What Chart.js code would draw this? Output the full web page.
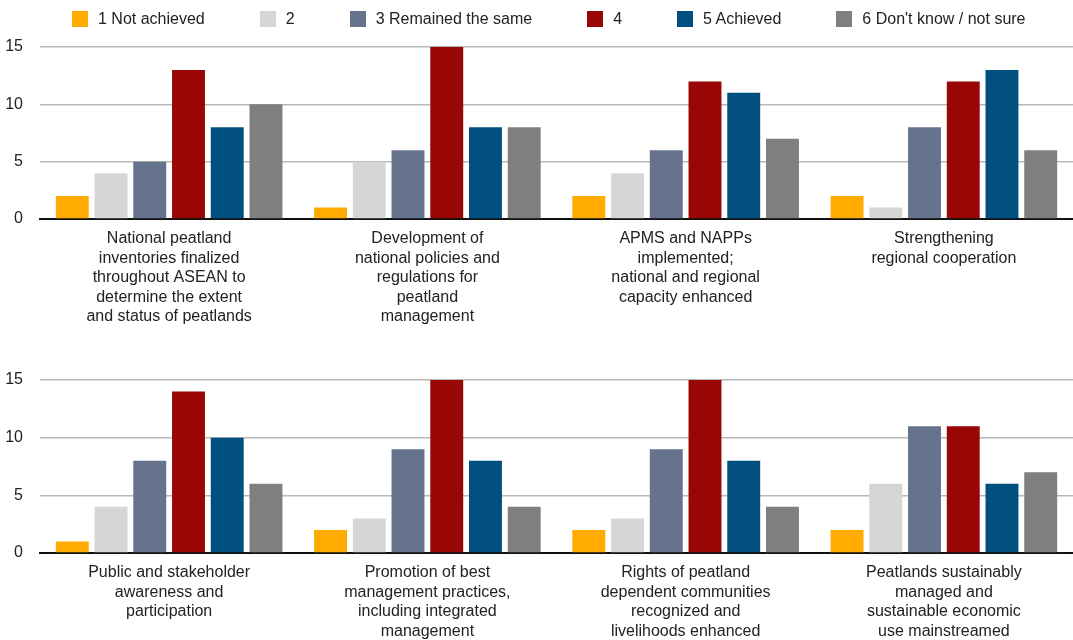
<!DOCTYPE html>
<html>
<head>
<meta charset="utf-8">
<script src="https://cdn.jsdelivr.net/npm/chart.js@4"></script>
<style>
  html, body { margin: 0; padding: 0; background: #fff; }
  #wrap { position: relative; width: 1073px; height: 640px; font-family: 'Liberation Sans', Arial, Helvetica, sans-serif; }
  .box { position: absolute; left: 0; width: 1073px; }
  #legend { position: absolute; top: 11px; left: 72px; display: flex; gap: 55px; z-index: 2; }
  .item { display: flex; align-items: center; gap: 10px; font-size: 16px; color: #222; line-height: 16px; white-space: nowrap; }
  .sw { width: 16px; height: 16px; display: inline-block; }
</style>
</head>
<body>
<div id="wrap">
  <div id="legend"></div>
  <div class="box" style="top:0;height:333px"><canvas id="topChart"></canvas></div>
  <div class="box" style="top:333px;height:307px"><canvas id="bottomChart"></canvas></div>
</div>
<script>
// Series names (legend)
const SERIES = ["1 Not achieved", "2", "3 Remained the same", "4", "5 Achieved", "6 Don't know / not sure"];
const COLORS = ["#FFAB00", "#D6D6D6", "#66738D", "#990606", "#004F7F", "#7F7F7F"];

// Top row categories
const TOP_LABELS = [
  ["National peatland", "inventories finalized", "throughout ASEAN to", "determine the extent", "and status of peatlands"],
  ["Development of", "national policies and", "regulations for", "peatland", "management"],
  ["APMS and NAPPs", "implemented;", "national and regional", "capacity enhanced"],
  ["Strengthening", "regional cooperation"],
];
const top1 = [2, 1, 2, 2];
const top2 = [4, 5, 4, 1];
const top3 = [5, 6, 6, 8];
const top4 = [13, 15, 12, 12];
const top5 = [8, 8, 11, 13];
const top6 = [10, 8, 7, 6];

// Bottom row categories
const BOTTOM_LABELS = [
  ["Public and stakeholder", "awareness and", "participation"],
  ["Promotion of best", "management practices,", "including integrated", "management"],
  ["Rights of peatland", "dependent communities", "recognized and", "livelihoods enhanced"],
  ["Peatlands sustainably", "managed and", "sustainable economic", "use mainstreamed"],
];
const bottom1 = [1, 2, 2, 2];
const bottom2 = [4, 3, 3, 6];
const bottom3 = [8, 9, 9, 11];
const bottom4 = [14, 15, 15, 11];
const bottom5 = [10, 8, 8, 6];
const bottom6 = [6, 4, 4, 7];

const Y_TICKS = [0, 5, 10, 15];

const FONT = "'Liberation Sans', Arial, Helvetica, sans-serif";
const TEXT = "#222";

// Shared legend for both rows
const legend = document.getElementById("legend");
SERIES.forEach((name, i) => {
  const el = document.createElement("div");
  el.className = "item";
  el.innerHTML = `<span class="sw" style="background:${COLORS[i]}"></span><span></span>`;
  el.lastChild.textContent = name;
  legend.appendChild(el);
});

function makeDatasets(rows) {
  return rows.map((data, i) => ({
    label: SERIES[i],
    data,
    backgroundColor: COLORS[i],
    borderWidth: 0,
    barPercentage: 0.85,
    categoryPercentage: 0.9,
  }));
}

function makeChart(id, labels, rows, xHeight, padTop) {
  return new Chart(document.getElementById(id), {
    type: "bar",
    data: { labels, datasets: makeDatasets(rows) },
    options: {
      responsive: true,
      maintainAspectRatio: false,
      animation: false,
      layout: { padding: { top: padTop, right: 0, left: 0, bottom: 0 } },
      plugins: {
        tooltip: { enabled: false },
        legend: { display: false },
      },
      scales: {
        x: {
          grid: { display: false },
          border: { display: true, color: "#111", width: 2 },
          ticks: {
            color: TEXT,
            font: { family: FONT, size: 16, lineHeight: 1.22 },
            maxRotation: 0,
            autoSkip: false,
            padding: 2,
          },
          afterFit: s => { s.height = xHeight; },
        },
        y: {
          min: 0,
          max: 15,
          afterBuildTicks: s => { s.ticks = Y_TICKS.map(v => ({ value: v })); },
          grid: { color: "#B8B8B8", lineWidth: 1.5, drawTicks: false },
          border: { display: false },
          ticks: {
            color: TEXT,
            font: { family: FONT, size: 16 },
            padding: 17,
          },
          afterFit: s => { s.width = 40; },
        },
      },
    },
  });
}

makeChart("topChart", TOP_LABELS, [top1, top2, top3, top4, top5, top6], 114, 47);
makeChart("bottomChart", BOTTOM_LABELS, [bottom1, bottom2, bottom3, bottom4, bottom5, bottom6], 87, 47);
</script>
</body>
</html>
